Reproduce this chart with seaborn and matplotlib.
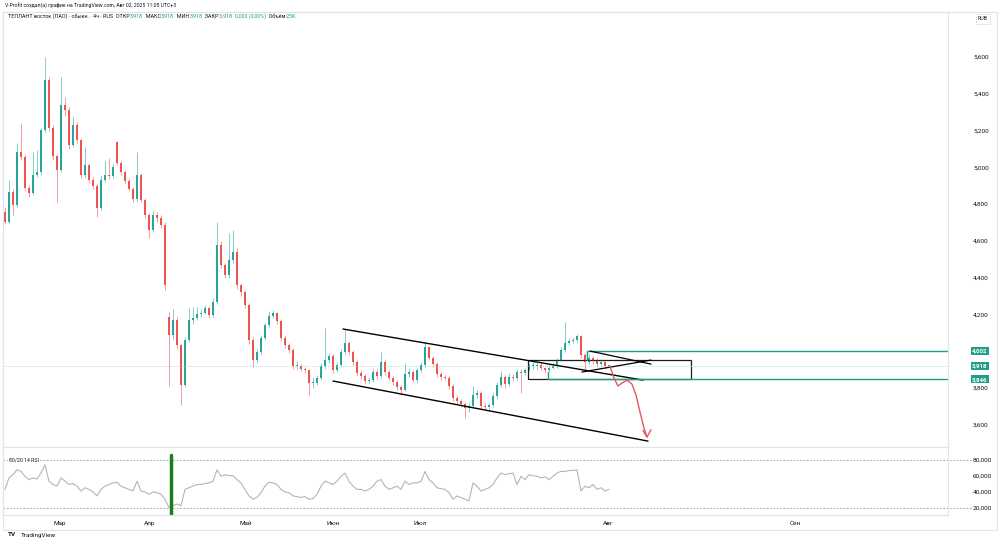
import numpy as np
import matplotlib
matplotlib.use("Agg")
import matplotlib.pyplot as plt
import matplotlib.transforms as mtransforms
from matplotlib.patches import Rectangle
import seaborn as sns

# %% data (4h candles; prices in RUB)
opens = [4.757, 4.703, 4.865, 4.795, 5.083, 5.056, 4.887, 4.860, 4.958, 4.974,
         5.203, 5.475, 5.214, 5.061, 4.985, 5.339, 5.312, 5.121, 5.230, 5.148,
         4.958, 5.012, 4.931, 4.898, 4.778, 4.931, 4.958, 4.952, 5.135, 5.023,
         4.974, 4.925, 4.882, 4.827, 4.958, 4.822, 4.740, 4.659, 4.740, 4.724,
         4.686, 4.185, 4.087, 4.169, 4.033, 3.815, 4.060, 4.169, 4.180, 4.201,
         4.207, 4.234, 4.196, 4.267, 4.577, 4.468, 4.414, 4.495, 4.539, 4.359,
         4.321, 4.250, 4.060, 3.951, 3.995, 4.071, 4.142, 4.191, 4.207, 4.163,
         4.071, 4.033, 4.005, 3.918, 3.918, 3.902, 3.897, 3.826, 3.826, 3.853,
         3.918, 3.951, 3.973, 3.897, 3.924, 3.995, 4.044, 3.995, 3.940, 3.880,
         3.864, 3.837, 3.842, 3.886, 3.864, 3.940, 3.886, 3.853, 3.831, 3.804,
         3.788, 3.875, 3.886, 3.842, 3.897, 3.924, 4.022, 3.962, 3.929, 3.875,
         3.859, 3.853, 3.810, 3.744, 3.728, 3.712, 3.690, 3.701, 3.761, 3.772,
         3.701, 3.695, 3.706, 3.755, 3.815, 3.859, 3.820, 3.859, 3.853, 3.886,
         3.880, 3.897, 3.918, 3.918, 3.924, 3.907, 3.897, 3.907, 3.918, 3.951,
         4.005, 4.044, 4.055, 4.060, 4.082, 3.978, 3.940, 3.962, 3.946, 3.929,
         3.940, 3.918]
highs = [4.785, 4.931, 4.880, 5.132, 5.241, 5.070, 4.905, 5.083, 5.094, 5.215,
         5.600, 5.490, 5.230, 5.075, 5.491, 5.380, 5.330, 5.275, 5.245, 5.160,
         5.110, 5.025, 4.945, 4.910, 4.960, 5.035, 5.050, 5.020, 5.145, 5.035,
         4.985, 4.940, 4.895, 5.083, 4.970, 4.835, 4.750, 4.760, 4.755, 4.740,
         4.700, 4.210, 4.230, 4.185, 4.045, 4.075, 4.235, 4.240, 4.240, 4.230,
         4.250, 4.245, 4.290, 4.702, 4.600, 4.480, 4.640, 4.659, 4.560, 4.370,
         4.335, 4.260, 4.075, 4.010, 4.085, 4.155, 4.220, 4.225, 4.215, 4.175,
         4.085, 4.045, 4.015, 3.945, 3.930, 3.915, 3.905, 3.860, 3.870, 3.935,
         4.125, 3.990, 3.985, 3.940, 4.010, 4.120, 4.055, 4.005, 3.950, 3.895,
         3.875, 3.860, 3.900, 3.905, 3.995, 3.950, 3.895, 3.865, 3.845, 3.815,
         3.935, 3.910, 3.895, 3.910, 3.940, 4.050, 4.030, 3.975, 3.940, 3.885,
         3.870, 3.865, 3.820, 3.760, 3.740, 3.725, 3.715, 3.810, 3.790, 3.780,
         3.715, 3.720, 3.770, 3.830, 3.890, 3.870, 3.880, 3.875, 3.900, 3.900,
         3.910, 3.935, 3.940, 3.940, 3.935, 3.915, 3.925, 3.935, 3.965, 4.020,
         4.160, 4.070, 4.075, 4.095, 4.090, 3.990, 3.985, 3.975, 3.960, 3.955,
         3.950, 3.918]
lows = [4.690, 4.695, 4.740, 4.785, 5.040, 4.870, 4.840, 4.850, 4.945, 4.965,
        5.190, 5.200, 5.040, 4.811, 4.975, 5.280, 5.100, 5.110, 5.130, 4.940,
        4.945, 4.915, 4.880, 4.729, 4.770, 4.920, 4.935, 4.940, 5.010, 4.960,
        4.910, 4.870, 4.810, 4.815, 4.810, 4.725, 4.615, 4.650, 4.705, 4.670,
        4.330, 3.810, 4.060, 4.010, 3.706, 3.805, 4.050, 4.150, 4.170, 4.185,
        4.200, 4.180, 4.185, 4.255, 4.450, 4.395, 4.400, 4.480, 4.340, 4.300,
        4.235, 4.040, 3.913, 3.940, 3.985, 4.060, 4.130, 4.180, 4.150, 4.055,
        4.015, 3.990, 3.900, 3.900, 3.890, 3.880, 3.761, 3.800, 3.815, 3.840,
        3.905, 3.935, 3.880, 3.885, 3.915, 3.985, 3.980, 3.925, 3.865, 3.850,
        3.820, 3.825, 3.830, 3.850, 3.855, 3.870, 3.840, 3.815, 3.790, 3.761,
        3.780, 3.860, 3.830, 3.830, 3.885, 3.915, 3.950, 3.915, 3.860, 3.845,
        3.840, 3.795, 3.730, 3.710, 3.695, 3.635, 3.670, 3.690, 3.745, 3.685,
        3.680, 3.680, 3.695, 3.745, 3.805, 3.800, 3.810, 3.835, 3.840, 3.772,
        3.870, 3.890, 3.905, 3.905, 3.895, 3.880, 3.885, 3.900, 3.910, 3.945,
        3.995, 4.035, 4.045, 4.050, 3.960, 3.900, 3.930, 3.930, 3.915, 3.920,
        3.905, 3.918]
closes = [4.703, 4.865, 4.795, 5.083, 5.056, 4.887, 4.860, 4.958, 4.974, 5.203,
          5.475, 5.214, 5.061, 4.985, 5.339, 5.312, 5.121, 5.230, 5.148, 4.958,
          5.012, 4.931, 4.898, 4.778, 4.931, 4.958, 4.952, 5.001, 5.023, 4.974,
          4.925, 4.882, 4.827, 4.958, 4.822, 4.740, 4.659, 4.740, 4.724, 4.686,
          4.359, 4.087, 4.169, 4.033, 3.815, 4.060, 4.169, 4.180, 4.201, 4.207,
          4.234, 4.196, 4.267, 4.577, 4.468, 4.414, 4.495, 4.539, 4.359, 4.321,
          4.250, 4.060, 3.951, 3.995, 4.071, 4.142, 4.191, 4.207, 4.163, 4.071,
          4.033, 4.005, 3.918, 3.918, 3.902, 3.897, 3.826, 3.826, 3.853, 3.918,
          3.951, 3.973, 3.897, 3.924, 3.995, 4.044, 3.995, 3.940, 3.880, 3.864,
          3.837, 3.842, 3.886, 3.864, 3.940, 3.886, 3.853, 3.831, 3.804, 3.788,
          3.875, 3.886, 3.842, 3.897, 3.924, 4.022, 3.962, 3.929, 3.875, 3.859,
          3.853, 3.810, 3.744, 3.728, 3.712, 3.690, 3.701, 3.761, 3.772, 3.701,
          3.695, 3.706, 3.755, 3.815, 3.859, 3.820, 3.859, 3.853, 3.886, 3.880,
          3.897, 3.918, 3.918, 3.924, 3.907, 3.897, 3.907, 3.918, 3.951, 4.005,
          4.044, 4.055, 4.060, 4.082, 3.978, 3.940, 3.962, 3.946, 3.929, 3.940,
          3.918, 3.918]
rsi = [43.3, 57.6, 61.6, 67.8, 65.7, 59.6, 55.5, 57.6, 56.3, 63.7,
       73.9, 53.5, 49.4, 47.3, 57.6, 53.5, 49.4, 50.6, 47.3, 41.2,
       45.3, 43.3, 40.0, 35.1, 43.3, 47.3, 49.4, 51.4, 52.2, 47.3,
       45.3, 43.3, 41.2, 53.5, 41.2, 40.0, 37.1, 40.0, 39.2, 37.1,
       31.0, 20.8, 22.9, 24.9, 22.9, 43.3, 45.3, 47.3, 49.4, 49.4,
       50.6, 51.4, 53.5, 67.8, 59.6, 61.6, 60.4, 60.4, 55.5, 51.4,
       43.3, 35.1, 31.0, 33.1, 39.2, 47.3, 52.2, 51.4, 49.4, 43.3,
       40.0, 39.2, 35.1, 34.3, 33.1, 34.3, 31.0, 31.8, 37.1, 47.3,
       53.5, 51.4, 49.4, 53.5, 59.6, 63.7, 53.5, 47.3, 43.3, 43.3,
       41.2, 43.3, 47.3, 53.5, 55.5, 47.3, 43.3, 45.3, 47.3, 43.3,
       53.5, 49.4, 51.4, 51.4, 53.5, 65.7, 55.5, 51.4, 45.3, 44.1,
       43.3, 39.2, 31.0, 35.1, 33.1, 31.0, 29.0, 51.4, 47.3, 41.2,
       43.3, 45.3, 49.4, 57.6, 63.7, 61.6, 62.9, 63.7, 49.4, 59.6,
       55.5, 61.6, 60.4, 59.6, 57.6, 58.8, 55.5, 59.6, 63.7, 65.7,
       65.7, 66.9, 66.9, 67.8, 41.2, 47.3, 45.3, 49.4, 43.3, 45.3,
       41.2, 43.3]

months = ["Мар", "Апр", "Май", "Июн", "Июл", "Авг", "Сен"]
month_bars = [13.75, 36.25, 60.25, 82, 103.75, 150.75, 197.5]
price_ticks = [3.6, 3.8, 4.2, 4.4, 4.6, 4.8, 5.0, 5.2, 5.4, 5.6]
rsi_ticks = [20, 40, 60, 80]

# drawings on the chart (bar index, price)
chan_top = ([84.5, 159.5], [4.120, 3.842])
chan_bot = ([82.0, 160.75], [3.837, 3.510])
box_x, box_y = (130.75, 171.5), (3.848, 3.951)
zone_hi = ([145.5, 145.5, 236.0], [3.951, 4.002, 4.002])
zone_lo = ([135.75, 135.75, 236.0], [3.886, 3.846, 3.846])
tri_top = ([146.25, 161.5], [4.000, 3.929])
tri_bot = ([144.25, 161.5], [3.886, 3.951])
path_x = [151.25, 152.25, 153.25, 154.25, 155.5, 156.75, 157.75, 158.75, 159.75, 160.5]
path_y = [3.918, 3.853, 3.810, 3.826, 3.842, 3.820, 3.761, 3.668, 3.581, 3.532]
marked_levels = [4.002, 3.918, 3.846]
last_price = 3.918

UP, DN = "#26a69a", "#ef5350"
TEAL, GRID = "#1f9e89", "#e0e3eb"
TXT = "#131722"

sns.set_theme(style="white")
plt.rcParams["font.family"] = ["Roboto", "DejaVu Sans"]

fig = plt.figure(figsize=(10, 5.44), dpi=100)
ax = fig.add_axes([0.003, 1 - 447 / 544, 0.945, 435 / 544])
ax2 = fig.add_axes([0.003, 1 - 515 / 544, 0.945, 68 / 544], sharex=ax)

o, h, l, c = map(np.asarray, (opens, highs, lows, closes))
idx = np.arange(len(c))
cols = np.where(c >= o, UP, DN)

# candles
ax.vlines(idx, l, h, colors=cols, lw=0.5, alpha=0.8)
ax.bar(idx, np.maximum(np.abs(c - o), 0.004), bottom=np.minimum(o, c),
       width=0.5, color=cols, linewidth=0)

ax.axhline(last_price, color="#9fd6cd", lw=0.6, ls=(0, (1, 1.5)))

# drawings
ax.plot(*chan_top, color="black", lw=1)
ax.plot(*chan_bot, color="black", lw=1)
ax.add_patch(Rectangle((box_x[0], box_y[0]), box_x[1] - box_x[0], box_y[1] - box_y[0],
                       fill=False, ec="#1d1d1d", lw=0.9))
ax.plot(*zone_hi, color=TEAL, lw=1)
ax.plot(*zone_lo, color=TEAL, lw=1)
ax.plot(*tri_top, color="black", lw=0.9)
ax.plot(*tri_bot, color="black", lw=0.9)
ax.plot(path_x, path_y, color="#e25760", lw=1)
ax.plot([path_x[-1] - 1.0, path_x[-1], path_x[-1] + 1.0],
        [path_y[-1] + 0.035, path_y[-1], path_y[-1] + 0.04], color="#e25760", lw=1)

ax.set_xlim(-0.5, 235.75)
ax.set_ylim(3.478, 5.845)
ax.yaxis.tick_right()
ax.set_yticks(price_ticks)
ax.set_yticklabels([f"{v:.3f}".replace(".", ",") for v in price_ticks])
ax.tick_params(axis="y", length=0, pad=18, labelsize=4.6, labelcolor=TXT)
ax.tick_params(axis="x", length=0, labelbottom=False)
for s in ax.spines.values():
    s.set_color(GRID)
    s.set_linewidth(0.8)

# price labels on the scale
blend = mtransforms.blended_transform_factory(ax.transAxes, ax.transData)
for v in marked_levels:
    ax.text(1.0255, v, f"{v:.3f}".replace(".", ","), transform=blend, ha="left",
            va="center", fontsize=4.4, color="white", fontweight="bold", clip_on=False,
            bbox=dict(boxstyle="square,pad=0.25", fc=TEAL, ec="none"))

# RSI pane
sns.lineplot(x=idx, y=rsi, ax=ax2, color="#b2b5be", lw=0.8)
ax2.set_ylim(11.25, 96.25)
blend2 = mtransforms.blended_transform_factory(ax2.transAxes, ax2.transData)
for lvl in (80, 20):
    ax2.plot([0, 1.025], [lvl, lvl], transform=blend2, color="#9598a1", lw=0.6,
             ls=(0, (2, 2)), clip_on=False)
ax2.axvline(41.5, ymin=0, ymax=0.88, color="#1a7f1a", lw=2.5)
ax2.yaxis.tick_right()
ax2.set_yticks(rsi_ticks)
ax2.set_yticklabels([f"{v},000" for v in rsi_ticks])
ax2.tick_params(axis="y", length=0, pad=18, labelsize=4.6, labelcolor=TXT)
ax2.set_xticks(month_bars)
ax2.set_xticklabels(months)
ax2.tick_params(axis="x", length=0, pad=4, labelsize=4.6, labelcolor=TXT)
ax2.set_ylabel("")
for s in ax2.spines.values():
    s.set_color(GRID)
    s.set_linewidth(0.8)
ax2.text(0.006, 80, "80/20 14 RSI", transform=blend2, fontsize=3.8, color=TXT,
         va="center", bbox=dict(boxstyle="square,pad=0.2", fc="white", ec="none"))

# frame, header and footer
fig.patches.append(Rectangle((3 / 1000, 14 / 544), 994 / 1000, 518 / 544,
                             transform=fig.transFigure, fill=False, ec=GRID, lw=0.8))
fig.text(0.005, 1 - 6 / 544, "V-Profit создал(а) график на TradingView.com, Авг 02, 2025 11:05 UTC+3",
         fontsize=3.7, color=TXT, va="center")
fig.text(0.983, 1 - 19 / 544, "RUB", fontsize=3.8, color=TXT, ha="center", va="center",
         bbox=dict(boxstyle="square,pad=0.4", fc="white", ec=GRID, lw=0.6))

# legend line: name in dark, OHLC values in teal
pieces = [("ТЕПЛАНТ восток (ПАО) · обыкн. · 4ч · RUS  ОТКР", TXT), ("3,918", TEAL),
          ("  МАКС", TXT), ("3,918", TEAL), ("  МИН", TXT), ("3,918", TEAL),
          ("  ЗАКР", TXT), ("3,918  0,000 (0,00%)", TEAL), ("  Объём", TXT), ("2,5K", TEAL)]
prev = fig.text(0.008, 1 - 19 / 544, "", fontsize=3.9, va="center")
for s, col in pieces:
    prev = ax.annotate(s, xy=(1, 0), xycoords=prev, va="bottom", fontsize=3.9,
                       color=col, annotation_clip=False)

fig.text(0.008, 1 - 535 / 544, "TV", fontsize=4.6, fontweight="bold", color=TXT, va="center")
fig.text(0.021, 1 - 535 / 544, "TradingView", fontsize=4.6, color=TXT, va="center")

fig.savefig("out.png", dpi=100, facecolor="white")
